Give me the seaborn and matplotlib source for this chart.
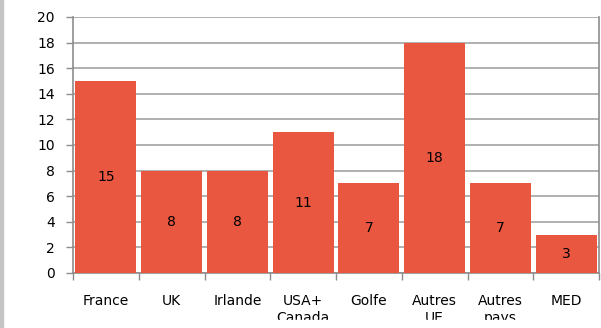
import matplotlib
matplotlib.use("Agg")
import matplotlib.pyplot as plt
import seaborn as sns
import pandas as pd
from matplotlib.patches import Rectangle

categories = ["France", "UK", "Irlande", "USA+\nCanada", "Golfe", "Autres\nUE", "Autres\npays", "MED"]
values = [15, 8, 8, 11, 7, 18, 7, 3]
yticks = [0, 2, 4, 6, 8, 10, 12, 14, 16, 18, 20]

sns.set_theme(style="white")
plt.rcParams['font.family'] = ['DejaVu Sans']

df = pd.DataFrame({"cat": categories, "val": values})

fig = plt.figure(figsize=(6.01, 3.28), dpi=100)
ax = fig.add_axes([73/601, 1-273/328, (599-73)/601, (273-17)/328])

bar_color = "#EA5741"
sns.barplot(data=df, x="cat", y="val", color=bar_color, width=0.93,
            saturation=1, ax=ax, zorder=3, edgecolor="none")

ax.set_ylim(0, 20)
ax.set_xlim(-0.5, len(categories) - 0.5)
ax.set_yticks(yticks)
ax.set_yticklabels([str(t) for t in yticks], fontsize=10, color="black")
ax.grid(axis="y", color="#a3a3a3", linewidth=1.2, zorder=0)
ax.grid(axis="x", visible=False)
ax.set_xlabel("")
ax.set_ylabel("")

ax.set_xticks(range(len(categories)))
ax.set_xticklabels(categories, fontsize=10, color="black", linespacing=1.25)
ax.tick_params(axis="x", which="major", length=0, pad=15)
ax.set_xticks([i - 0.5 for i in range(len(categories) + 1)], minor=True)
ax.tick_params(axis="x", which="minor", length=5, width=1, color="#8c8c8c", direction="out", bottom=True)
ax.tick_params(axis="y", length=5, width=1, color="#8c8c8c", direction="out", left=True, pad=8)

for s in ["left", "bottom", "right", "top"]:
    ax.spines[s].set_color("#8c8c8c")
    ax.spines[s].set_linewidth(1.2)
ax.spines["top"].set_visible(False)

for i, v in enumerate(values):
    ax.text(i, v / 2, str(v), ha="center", va="center", fontsize=10, color="black", zorder=4)

# bottom clip and left gray strip as in reference
fig.patches.append(Rectangle((4/601, 0), 1, 8/328, transform=fig.transFigure, color="white", zorder=10))
fig.patches.append(Rectangle((0, 0), 3/601, 1, transform=fig.transFigure, color="#c4c4c4", zorder=11))

fig.savefig("out.png", dpi=100)
